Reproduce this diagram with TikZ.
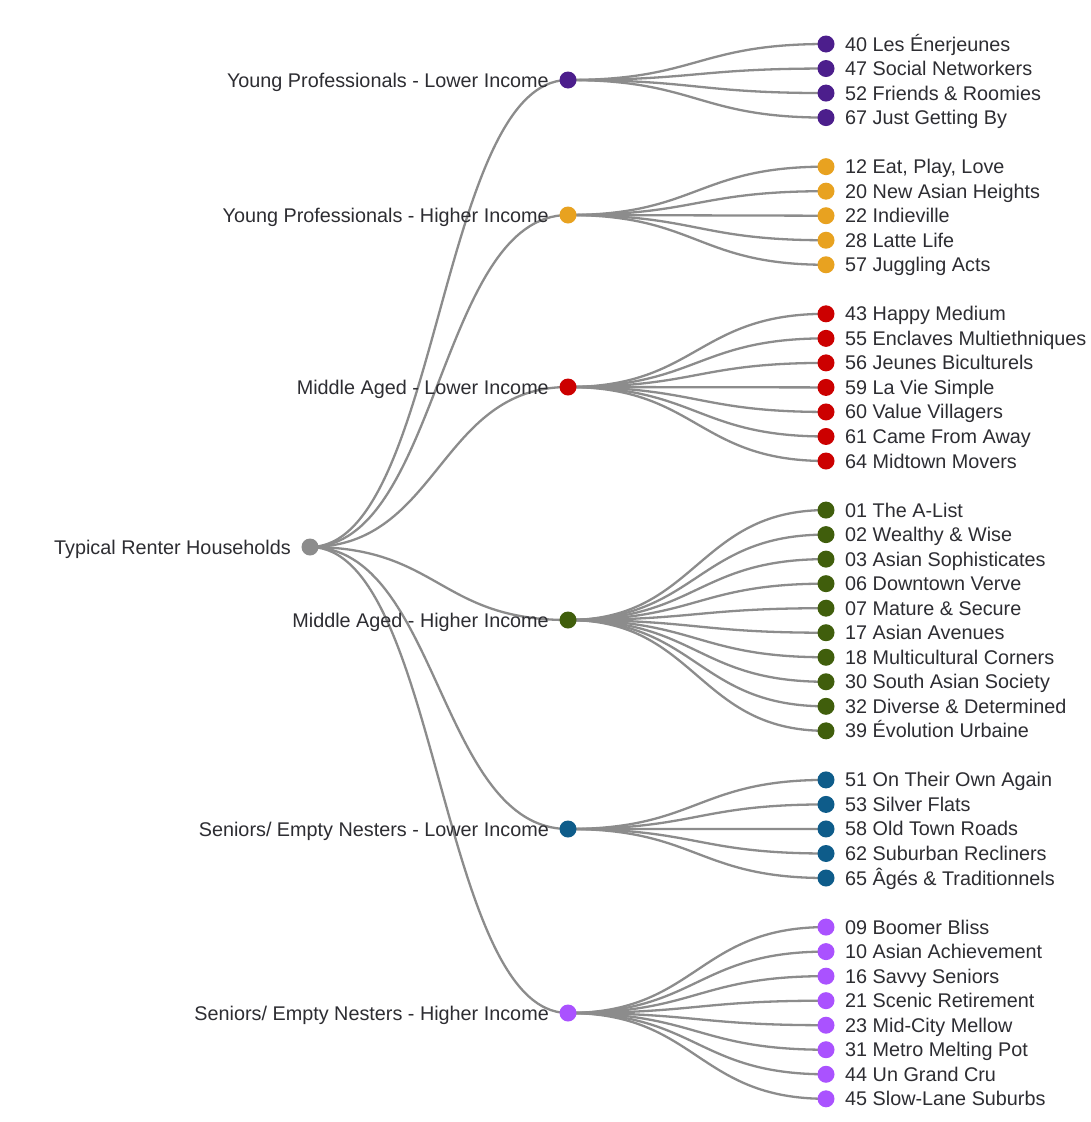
\documentclass[tikz,border=0pt]{standalone}
\usepackage{fontspec}
\setmainfont{Liberation Sans}
\usetikzlibrary{backgrounds}
\definecolor{linkgray}{RGB}{140,140,140}
\definecolor{textgray}{RGB}{45,45,50}
\definecolor{rootc}{RGB}{140,140,140}
\definecolor{cA}{RGB}{76,30,140}
\definecolor{cB}{RGB}{232,162,32}
\definecolor{cC}{RGB}{204,0,0}
\definecolor{cD}{RGB}{64,94,12}
\definecolor{cE}{RGB}{14,92,138}
\definecolor{cF}{RGB}{170,82,255}
% leaf: name, slot index, colour, label
\newcommand\leafnode[4]{%
  \node[dot, fill=#3] (#1) at (826,{44+24.53*#2}) {};
  \node[txt, anchor=base west] (#1t) at (845,{44+24.53*#2+7}) {#4};}
% branch: name, y, colour, label
\newcommand\branchnode[4]{%
  \node[dot, fill=#3] (#1) at (568,#2) {};
  \node[txt, anchor=base east] (#1t) at (549,#2+7) {#4};}
\newcommand\linkto[2]{\draw[link] (#1.center) .. controls +(129,0) and +(-129,0) .. (#2.center);}
\begin{document}
\begin{tikzpicture}[x=1pt,y=-1pt,
  dot/.style={circle, draw=none, inner sep=0pt, minimum size=17pt},
  link/.style={draw=linkgray, line width=2.3pt},
  txt/.style={inner sep=0pt, text=textgray, font=\fontsize{19.8}{23}\selectfont}]
\useasboundingbox (0,0) rectangle (1090,1122);

% root
\node[dot, fill=rootc] (root) at (310,547) {};
\node[txt, anchor=base east] (roott) at (291,554) {Typical Renter Households};

% second level
\branchnode{g1}{80}{cA}{Young Professionals - Lower Income}
\branchnode{g2}{215}{cB}{Young Professionals - Higher Income}
\branchnode{g3}{387}{cC}{Middle Aged - Lower Income}
\branchnode{g4}{620}{cD}{Middle Aged - Higher Income}
\branchnode{g5}{829}{cE}{Seniors/ Empty Nesters - Lower Income}
\branchnode{g6}{1013}{cF}{Seniors/ Empty Nesters - Higher Income}

% leaves
\leafnode{a1}{0}{cA}{40 Les Énerjeunes}
\leafnode{a2}{1}{cA}{47 Social Networkers}
\leafnode{a3}{2}{cA}{52 Friends \& Roomies}
\leafnode{a4}{3}{cA}{67 Just Getting By}

\leafnode{b1}{5}{cB}{12 Eat, Play, Love}
\leafnode{b2}{6}{cB}{20 New Asian Heights}
\leafnode{b3}{7}{cB}{22 Indieville}
\leafnode{b4}{8}{cB}{28 Latte Life}
\leafnode{b5}{9}{cB}{57 Juggling Acts}

\leafnode{c1}{11}{cC}{43 Happy Medium}
\leafnode{c2}{12}{cC}{55 Enclaves Multiethniques}
\leafnode{c3}{13}{cC}{56 Jeunes Biculturels}
\leafnode{c4}{14}{cC}{59 La Vie Simple}
\leafnode{c5}{15}{cC}{60 Value Villagers}
\leafnode{c6}{16}{cC}{61 Came From Away}
\leafnode{c7}{17}{cC}{64 Midtown Movers}

\leafnode{d1}{19}{cD}{01 The A-List}
\leafnode{d2}{20}{cD}{02 Wealthy \& Wise}
\leafnode{d3}{21}{cD}{03 Asian Sophisticates}
\leafnode{d4}{22}{cD}{06 Downtown Verve}
\leafnode{d5}{23}{cD}{07 Mature \& Secure}
\leafnode{d6}{24}{cD}{17 Asian Avenues}
\leafnode{d7}{25}{cD}{18 Multicultural Corners}
\leafnode{d8}{26}{cD}{30 South Asian Society}
\leafnode{d9}{27}{cD}{32 Diverse \& Determined}
\leafnode{d10}{28}{cD}{39 Évolution Urbaine}

\leafnode{e1}{30}{cE}{51 On Their Own Again}
\leafnode{e2}{31}{cE}{53 Silver Flats}
\leafnode{e3}{32}{cE}{58 Old Town Roads}
\leafnode{e4}{33}{cE}{62 Suburban Recliners}
\leafnode{e5}{34}{cE}{65 Âgés \& Traditionnels}

\leafnode{f1}{36}{cF}{09 Boomer Bliss}
\leafnode{f2}{37}{cF}{10 Asian Achievement}
\leafnode{f3}{38}{cF}{16 Savvy Seniors}
\leafnode{f4}{39}{cF}{21 Scenic Retirement}
\leafnode{f5}{40}{cF}{23 Mid-City Mellow}
\leafnode{f6}{41}{cF}{31 Metro Melting Pot}
\leafnode{f7}{42}{cF}{44 Un Grand Cru}
\leafnode{f8}{43}{cF}{45 Slow-Lane Suburbs}

% connectors behind the dots
\begin{scope}[on background layer]
  \fill[white] (0,0) rectangle (1090,1122);
  \foreach \g in {g1,g2,g3,g4,g5,g6} {\linkto{root}{\g}}
  \foreach \l in {a1,a2,a3,a4} {\linkto{g1}{\l}}
  \foreach \l in {b1,b2,b3,b4,b5} {\linkto{g2}{\l}}
  \foreach \l in {c1,c2,c3,c4,c5,c6,c7} {\linkto{g3}{\l}}
  \foreach \l in {d1,d2,d3,d4,d5,d6,d7,d8,d9,d10} {\linkto{g4}{\l}}
  \foreach \l in {e1,e2,e3,e4,e5} {\linkto{g5}{\l}}
  \foreach \l in {f1,f2,f3,f4,f5,f6,f7,f8} {\linkto{g6}{\l}}
\end{scope}
\end{tikzpicture}
\end{document}
